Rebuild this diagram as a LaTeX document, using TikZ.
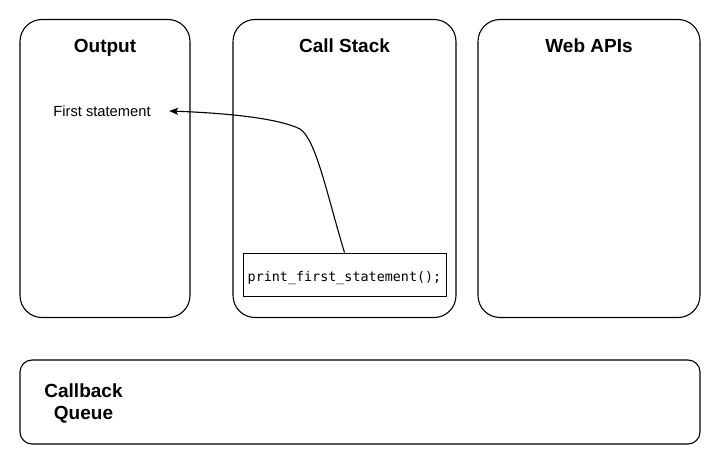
\documentclass[tikz,border=0pt]{standalone}
\usepackage{fontspec}
\setmainfont{Liberation Sans}
\newfontfamily\codefont{DejaVu Sans Mono}
\usetikzlibrary{arrows.meta}
\begin{document}
\begin{tikzpicture}[x=1pt,y=-1pt,
  panel/.style={draw, line width=1.1pt, rounded corners=22pt, inner sep=0pt},
  queuebox/.style={draw, line width=1.1pt, rounded corners=12pt, inner sep=0pt},
  title/.style={font=\fontsize{19}{22}\selectfont\bfseries, anchor=base},
  codebox/.style={draw, line width=0.9pt, inner sep=0pt, font=\codefont\fontsize{13.4}{16}\selectfont},
  flow/.style={line width=1.1pt, -{Stealth[length=9pt,width=7pt,inset=2pt]}}]
  \useasboundingbox (0,0) rectangle (720,465);

  % three columns
  \node[panel, minimum width=170pt, minimum height=298pt] (out) at (105,168.5) {};
  \node[panel, minimum width=223pt, minimum height=298pt] (stack) at (344.5,168.5) {};
  \node[panel, minimum width=222pt, minimum height=298pt] (web) at (589,168.5) {};

  \node[title] (outT) at (105,53) {Output};
  \node[title] (stackT) at (344.5,53) {Call Stack};
  \node[title] (webT) at (589,53) {Web APIs};

  % callback queue
  \node[queuebox, minimum width=680pt, minimum height=84pt] (queue) at (360,402) {};
  \node[font=\fontsize{19}{22.5}\selectfont\bfseries, align=center] (queueT) at (83.5,403.5) {Callback\\Queue};

  % output text and call stack frame
  \node[font=\fontsize{14.7}{17}\selectfont] (fs) at (102,111) {First statement};
  \node[codebox, minimum width=203pt, minimum height=43pt] (call) at (344.5,274.5) {};
  \node[font=\codefont\fontsize{13.4}{16}\selectfont, anchor=base] (callT) at (344.5,281) {print\_first\_statement();};

  \coordinate (bend) at (300,129);
  \coordinate (tip) at ([xshift=15pt]fs.east);
  \draw[flow] (call.north) .. controls (327,195) and (316,139) .. (bend)
    .. controls (278,118) and (225,113) .. (tip);
\end{tikzpicture}
\end{document}
